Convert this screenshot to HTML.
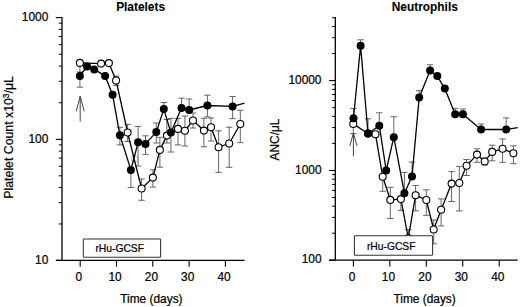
<!DOCTYPE html>
<html><head><meta charset="utf-8"><style>
html,body{margin:0;padding:0;background:#fff;}
svg{display:block;}
text{font-family:"Liberation Sans",sans-serif;fill:#000;stroke:#000;stroke-width:0.22px;}
</style></head><body>
<svg width="520" height="307" viewBox="0 0 520 307">
<rect width="520" height="307" fill="#fff"/>
<line x1="62.0" y1="17.1" x2="62.0" y2="260.4" stroke="#000" stroke-width="1.3"/>
<line x1="55.8" y1="260.4" x2="62.0" y2="260.4" stroke="#000" stroke-width="1.1"/>
<line x1="55.8" y1="139.4" x2="62.0" y2="139.4" stroke="#000" stroke-width="1.1"/>
<line x1="55.8" y1="17.6" x2="62.0" y2="17.6" stroke="#000" stroke-width="1.1"/>
<line x1="58.8" y1="223.97537052465827" x2="62.0" y2="223.97537052465827" stroke="#000" stroke-width="0.9900000000000001"/>
<line x1="58.8" y1="202.66832817892083" x2="62.0" y2="202.66832817892083" stroke="#000" stroke-width="0.9900000000000001"/>
<line x1="58.8" y1="187.55074104931654" x2="62.0" y2="187.55074104931654" stroke="#000" stroke-width="0.9900000000000001"/>
<line x1="58.8" y1="175.8246294753417" x2="62.0" y2="175.8246294753417" stroke="#000" stroke-width="0.9900000000000001"/>
<line x1="58.8" y1="166.24369870357913" x2="62.0" y2="166.24369870357913" stroke="#000" stroke-width="0.9900000000000001"/>
<line x1="58.8" y1="158.14313715827493" x2="62.0" y2="158.14313715827493" stroke="#000" stroke-width="0.9900000000000001"/>
<line x1="58.8" y1="151.12611157397484" x2="62.0" y2="151.12611157397484" stroke="#000" stroke-width="0.9900000000000001"/>
<line x1="58.8" y1="144.93665635784168" x2="62.0" y2="144.93665635784168" stroke="#000" stroke-width="0.9900000000000001"/>
<line x1="58.8" y1="102.73454652812708" x2="62.0" y2="102.73454652812708" stroke="#000" stroke-width="0.9900000000000001"/>
<line x1="58.8" y1="81.28663117514512" x2="62.0" y2="81.28663117514512" stroke="#000" stroke-width="0.9900000000000001"/>
<line x1="58.8" y1="66.06909305625418" x2="62.0" y2="66.06909305625418" stroke="#000" stroke-width="0.9900000000000001"/>
<line x1="58.8" y1="54.2654534718729" x2="62.0" y2="54.2654534718729" stroke="#000" stroke-width="0.9900000000000001"/>
<line x1="58.8" y1="44.621177703272195" x2="62.0" y2="44.621177703272195" stroke="#000" stroke-width="0.9900000000000001"/>
<line x1="58.8" y1="36.46705872626352" x2="62.0" y2="36.46705872626352" stroke="#000" stroke-width="0.9900000000000001"/>
<line x1="58.8" y1="29.403639584381267" x2="62.0" y2="29.403639584381267" stroke="#000" stroke-width="0.9900000000000001"/>
<line x1="58.8" y1="23.17326235029023" x2="62.0" y2="23.17326235029023" stroke="#000" stroke-width="0.9900000000000001"/>
<text x="48.3" y="20.700000000000003" font-size="11.9" text-anchor="end" font-weight="normal" font-family="Liberation Sans, sans-serif" >1000</text>
<text x="48.3" y="142.5" font-size="11.9" text-anchor="end" font-weight="normal" font-family="Liberation Sans, sans-serif" >100</text>
<text x="48.3" y="263.5" font-size="11.9" text-anchor="end" font-weight="normal" font-family="Liberation Sans, sans-serif" >10</text>
<line x1="56.0" y1="260.4" x2="244.6" y2="260.4" stroke="#000" stroke-width="1.3"/>
<line x1="80.2" y1="260.4" x2="80.2" y2="266.7" stroke="#000" stroke-width="1.1"/>
<line x1="116.5" y1="260.4" x2="116.5" y2="266.7" stroke="#000" stroke-width="1.1"/>
<line x1="152.8" y1="260.4" x2="152.8" y2="266.7" stroke="#000" stroke-width="1.1"/>
<line x1="189.1" y1="260.4" x2="189.1" y2="266.7" stroke="#000" stroke-width="1.1"/>
<line x1="225.39999999999998" y1="260.4" x2="225.39999999999998" y2="266.7" stroke="#000" stroke-width="1.1"/>
<text x="78.8" y="280.6" font-size="11.9" text-anchor="middle" font-weight="normal" font-family="Liberation Sans, sans-serif" >0</text>
<text x="115.1" y="280.6" font-size="11.9" text-anchor="middle" font-weight="normal" font-family="Liberation Sans, sans-serif" >10</text>
<text x="151.4" y="280.6" font-size="11.9" text-anchor="middle" font-weight="normal" font-family="Liberation Sans, sans-serif" >20</text>
<text x="187.7" y="280.6" font-size="11.9" text-anchor="middle" font-weight="normal" font-family="Liberation Sans, sans-serif" >30</text>
<text x="223.99999999999997" y="280.6" font-size="11.9" text-anchor="middle" font-weight="normal" font-family="Liberation Sans, sans-serif" >40</text>
<line x1="335.3" y1="17.1" x2="335.3" y2="260.2" stroke="#000" stroke-width="1.3"/>
<line x1="329.1" y1="260.2" x2="335.3" y2="260.2" stroke="#000" stroke-width="1.1"/>
<line x1="329.1" y1="170.5" x2="335.3" y2="170.5" stroke="#000" stroke-width="1.1"/>
<line x1="329.1" y1="80.6" x2="335.3" y2="80.6" stroke="#000" stroke-width="1.1"/>
<line x1="332.1" y1="233.1976093889409" x2="335.3" y2="233.1976093889409" stroke="#000" stroke-width="0.9900000000000001"/>
<line x1="332.1" y1="217.40222345164628" x2="335.3" y2="217.40222345164628" stroke="#000" stroke-width="0.9900000000000001"/>
<line x1="332.1" y1="206.19521877788176" x2="335.3" y2="206.19521877788176" stroke="#000" stroke-width="0.9900000000000001"/>
<line x1="332.1" y1="197.5023906110591" x2="335.3" y2="197.5023906110591" stroke="#000" stroke-width="0.9900000000000001"/>
<line x1="332.1" y1="190.39983284058718" x2="335.3" y2="190.39983284058718" stroke="#000" stroke-width="0.9900000000000001"/>
<line x1="332.1" y1="184.39470581072118" x2="335.3" y2="184.39470581072118" stroke="#000" stroke-width="0.9900000000000001"/>
<line x1="332.1" y1="179.19282816682266" x2="335.3" y2="179.19282816682266" stroke="#000" stroke-width="0.9900000000000001"/>
<line x1="332.1" y1="174.60444690329257" x2="335.3" y2="174.60444690329257" stroke="#000" stroke-width="0.9900000000000001"/>
<line x1="332.1" y1="143.43740338980808" x2="335.3" y2="143.43740338980808" stroke="#000" stroke-width="0.9900000000000001"/>
<line x1="332.1" y1="127.60679920070234" x2="335.3" y2="127.60679920070234" stroke="#000" stroke-width="0.9900000000000001"/>
<line x1="332.1" y1="116.37480677961618" x2="335.3" y2="116.37480677961618" stroke="#000" stroke-width="0.9900000000000001"/>
<line x1="332.1" y1="107.6625966101919" x2="335.3" y2="107.6625966101919" stroke="#000" stroke-width="0.9900000000000001"/>
<line x1="332.1" y1="100.54420259051044" x2="335.3" y2="100.54420259051044" stroke="#000" stroke-width="0.9900000000000001"/>
<line x1="332.1" y1="94.5256862027183" x2="335.3" y2="94.5256862027183" stroke="#000" stroke-width="0.9900000000000001"/>
<line x1="332.1" y1="89.31221016942428" x2="335.3" y2="89.31221016942428" stroke="#000" stroke-width="0.9900000000000001"/>
<line x1="332.1" y1="84.7135984014047" x2="335.3" y2="84.7135984014047" stroke="#000" stroke-width="0.9900000000000001"/>
<line x1="332.1" y1="53.537403389808084" x2="335.3" y2="53.537403389808084" stroke="#000" stroke-width="0.9900000000000001"/>
<line x1="332.1" y1="37.70679920070234" x2="335.3" y2="37.70679920070234" stroke="#000" stroke-width="0.9900000000000001"/>
<line x1="332.1" y1="26.474806779616173" x2="335.3" y2="26.474806779616173" stroke="#000" stroke-width="0.9900000000000001"/>
<line x1="332.1" y1="17.762596610191892" x2="335.3" y2="17.762596610191892" stroke="#000" stroke-width="0.9900000000000001"/>
<text x="321.5" y="83.69999999999999" font-size="11.9" text-anchor="end" font-weight="normal" font-family="Liberation Sans, sans-serif" >10000</text>
<text x="321.5" y="173.6" font-size="11.9" text-anchor="end" font-weight="normal" font-family="Liberation Sans, sans-serif" >1000</text>
<text x="321.5" y="263.3" font-size="11.9" text-anchor="end" font-weight="normal" font-family="Liberation Sans, sans-serif" >100</text>
<line x1="329.0" y1="260.2" x2="517.6" y2="260.2" stroke="#000" stroke-width="1.3"/>
<line x1="353.4" y1="260.2" x2="353.4" y2="266.5" stroke="#000" stroke-width="1.1"/>
<line x1="389.84999999999997" y1="260.2" x2="389.84999999999997" y2="266.5" stroke="#000" stroke-width="1.1"/>
<line x1="426.29999999999995" y1="260.2" x2="426.29999999999995" y2="266.5" stroke="#000" stroke-width="1.1"/>
<line x1="462.75" y1="260.2" x2="462.75" y2="266.5" stroke="#000" stroke-width="1.1"/>
<line x1="499.2" y1="260.2" x2="499.2" y2="266.5" stroke="#000" stroke-width="1.1"/>
<text x="352.0" y="280.6" font-size="11.9" text-anchor="middle" font-weight="normal" font-family="Liberation Sans, sans-serif" >0</text>
<text x="388.45" y="280.6" font-size="11.9" text-anchor="middle" font-weight="normal" font-family="Liberation Sans, sans-serif" >10</text>
<text x="424.9" y="280.6" font-size="11.9" text-anchor="middle" font-weight="normal" font-family="Liberation Sans, sans-serif" >20</text>
<text x="461.35" y="280.6" font-size="11.9" text-anchor="middle" font-weight="normal" font-family="Liberation Sans, sans-serif" >30</text>
<text x="497.8" y="280.6" font-size="11.9" text-anchor="middle" font-weight="normal" font-family="Liberation Sans, sans-serif" >40</text>
<circle cx="134.4" cy="159" r="3.3" fill="none" stroke="#bbb" stroke-width="1"/>
<line x1="79.9" y1="62.9" x2="79.9" y2="72" stroke="#555" stroke-width="0.9"/>
<line x1="76.7" y1="72" x2="83.10000000000001" y2="72" stroke="#555" stroke-width="0.9"/>
<line x1="116.1" y1="80.5" x2="116.1" y2="76.1" stroke="#555" stroke-width="0.9"/>
<line x1="112.89999999999999" y1="76.1" x2="119.3" y2="76.1" stroke="#555" stroke-width="0.9"/>
<line x1="116.1" y1="80.5" x2="116.1" y2="85.4" stroke="#555" stroke-width="0.9"/>
<line x1="112.89999999999999" y1="85.4" x2="119.3" y2="85.4" stroke="#555" stroke-width="0.9"/>
<line x1="127.6" y1="132.5" x2="127.6" y2="124.4" stroke="#555" stroke-width="0.9"/>
<line x1="124.39999999999999" y1="124.4" x2="130.79999999999998" y2="124.4" stroke="#555" stroke-width="0.9"/>
<line x1="127.6" y1="132.5" x2="127.6" y2="141.5" stroke="#555" stroke-width="0.9"/>
<line x1="124.39999999999999" y1="141.5" x2="130.79999999999998" y2="141.5" stroke="#555" stroke-width="0.9"/>
<line x1="141.6" y1="188.5" x2="141.6" y2="179" stroke="#555" stroke-width="0.9"/>
<line x1="138.4" y1="179" x2="144.79999999999998" y2="179" stroke="#555" stroke-width="0.9"/>
<line x1="141.6" y1="188.5" x2="141.6" y2="200.3" stroke="#555" stroke-width="0.9"/>
<line x1="138.4" y1="200.3" x2="144.79999999999998" y2="200.3" stroke="#555" stroke-width="0.9"/>
<line x1="152.9" y1="177.6" x2="152.9" y2="169.8" stroke="#555" stroke-width="0.9"/>
<line x1="149.70000000000002" y1="169.8" x2="156.1" y2="169.8" stroke="#555" stroke-width="0.9"/>
<line x1="152.9" y1="177.6" x2="152.9" y2="187.1" stroke="#555" stroke-width="0.9"/>
<line x1="149.70000000000002" y1="187.1" x2="156.1" y2="187.1" stroke="#555" stroke-width="0.9"/>
<line x1="159.9" y1="149.9" x2="159.9" y2="137.3" stroke="#555" stroke-width="0.9"/>
<line x1="156.70000000000002" y1="137.3" x2="163.1" y2="137.3" stroke="#555" stroke-width="0.9"/>
<line x1="159.9" y1="149.9" x2="159.9" y2="167.2" stroke="#555" stroke-width="0.9"/>
<line x1="156.70000000000002" y1="167.2" x2="163.1" y2="167.2" stroke="#555" stroke-width="0.9"/>
<line x1="166.9" y1="135.6" x2="166.9" y2="119.5" stroke="#555" stroke-width="0.9"/>
<line x1="163.70000000000002" y1="119.5" x2="170.1" y2="119.5" stroke="#555" stroke-width="0.9"/>
<line x1="166.9" y1="135.6" x2="166.9" y2="143" stroke="#555" stroke-width="0.9"/>
<line x1="163.70000000000002" y1="143" x2="170.1" y2="143" stroke="#555" stroke-width="0.9"/>
<line x1="178" y1="128.9" x2="178" y2="118.4" stroke="#555" stroke-width="0.9"/>
<line x1="174.8" y1="118.4" x2="181.2" y2="118.4" stroke="#555" stroke-width="0.9"/>
<line x1="178" y1="128.9" x2="178" y2="144.9" stroke="#555" stroke-width="0.9"/>
<line x1="174.8" y1="144.9" x2="181.2" y2="144.9" stroke="#555" stroke-width="0.9"/>
<line x1="184.9" y1="130.8" x2="184.9" y2="116" stroke="#555" stroke-width="0.9"/>
<line x1="181.70000000000002" y1="116" x2="188.1" y2="116" stroke="#555" stroke-width="0.9"/>
<line x1="184.9" y1="130.8" x2="184.9" y2="146" stroke="#555" stroke-width="0.9"/>
<line x1="181.70000000000002" y1="146" x2="188.1" y2="146" stroke="#555" stroke-width="0.9"/>
<line x1="193" y1="120.5" x2="193" y2="113" stroke="#555" stroke-width="0.9"/>
<line x1="189.8" y1="113" x2="196.2" y2="113" stroke="#555" stroke-width="0.9"/>
<line x1="193" y1="120.5" x2="193" y2="128" stroke="#555" stroke-width="0.9"/>
<line x1="189.8" y1="128" x2="196.2" y2="128" stroke="#555" stroke-width="0.9"/>
<line x1="203.9" y1="130.6" x2="203.9" y2="118.3" stroke="#555" stroke-width="0.9"/>
<line x1="200.70000000000002" y1="118.3" x2="207.1" y2="118.3" stroke="#555" stroke-width="0.9"/>
<line x1="203.9" y1="130.6" x2="203.9" y2="146.8" stroke="#555" stroke-width="0.9"/>
<line x1="200.70000000000002" y1="146.8" x2="207.1" y2="146.8" stroke="#555" stroke-width="0.9"/>
<line x1="211" y1="127.2" x2="211" y2="118" stroke="#555" stroke-width="0.9"/>
<line x1="207.8" y1="118" x2="214.2" y2="118" stroke="#555" stroke-width="0.9"/>
<line x1="211" y1="127.2" x2="211" y2="141" stroke="#555" stroke-width="0.9"/>
<line x1="207.8" y1="141" x2="214.2" y2="141" stroke="#555" stroke-width="0.9"/>
<line x1="218.6" y1="147.2" x2="218.6" y2="130.8" stroke="#555" stroke-width="0.9"/>
<line x1="215.4" y1="130.8" x2="221.79999999999998" y2="130.8" stroke="#555" stroke-width="0.9"/>
<line x1="218.6" y1="147.2" x2="218.6" y2="172.4" stroke="#555" stroke-width="0.9"/>
<line x1="215.4" y1="172.4" x2="221.79999999999998" y2="172.4" stroke="#555" stroke-width="0.9"/>
<line x1="229.2" y1="143.5" x2="229.2" y2="127.2" stroke="#555" stroke-width="0.9"/>
<line x1="226.0" y1="127.2" x2="232.39999999999998" y2="127.2" stroke="#555" stroke-width="0.9"/>
<line x1="229.2" y1="143.5" x2="229.2" y2="167.3" stroke="#555" stroke-width="0.9"/>
<line x1="226.0" y1="167.3" x2="232.39999999999998" y2="167.3" stroke="#555" stroke-width="0.9"/>
<line x1="240.3" y1="124" x2="240.3" y2="110.3" stroke="#555" stroke-width="0.9"/>
<line x1="237.10000000000002" y1="110.3" x2="243.5" y2="110.3" stroke="#555" stroke-width="0.9"/>
<line x1="240.3" y1="124" x2="240.3" y2="142.7" stroke="#555" stroke-width="0.9"/>
<line x1="237.10000000000002" y1="142.7" x2="243.5" y2="142.7" stroke="#555" stroke-width="0.9"/>
<line x1="79.9" y1="76.0" x2="79.9" y2="87.2" stroke="#555" stroke-width="0.9"/>
<line x1="76.7" y1="87.2" x2="83.10000000000001" y2="87.2" stroke="#555" stroke-width="0.9"/>
<line x1="119.9" y1="135.3" x2="119.9" y2="127.3" stroke="#555" stroke-width="0.9"/>
<line x1="116.7" y1="127.3" x2="123.10000000000001" y2="127.3" stroke="#555" stroke-width="0.9"/>
<line x1="119.9" y1="135.3" x2="119.9" y2="144.9" stroke="#555" stroke-width="0.9"/>
<line x1="116.7" y1="144.9" x2="123.10000000000001" y2="144.9" stroke="#555" stroke-width="0.9"/>
<line x1="130.9" y1="169.9" x2="130.9" y2="187.5" stroke="#555" stroke-width="0.9"/>
<line x1="127.7" y1="187.5" x2="134.1" y2="187.5" stroke="#555" stroke-width="0.9"/>
<line x1="138.1" y1="142.3" x2="138.1" y2="126.4" stroke="#555" stroke-width="0.9"/>
<line x1="134.9" y1="126.4" x2="141.29999999999998" y2="126.4" stroke="#555" stroke-width="0.9"/>
<line x1="138.1" y1="142.3" x2="138.1" y2="166" stroke="#555" stroke-width="0.9"/>
<line x1="134.9" y1="166" x2="141.29999999999998" y2="166" stroke="#555" stroke-width="0.9"/>
<line x1="145.5" y1="143.9" x2="145.5" y2="135.8" stroke="#555" stroke-width="0.9"/>
<line x1="142.3" y1="135.8" x2="148.7" y2="135.8" stroke="#555" stroke-width="0.9"/>
<line x1="145.5" y1="143.9" x2="145.5" y2="154.4" stroke="#555" stroke-width="0.9"/>
<line x1="142.3" y1="154.4" x2="148.7" y2="154.4" stroke="#555" stroke-width="0.9"/>
<line x1="156.3" y1="132.1" x2="156.3" y2="123" stroke="#555" stroke-width="0.9"/>
<line x1="153.10000000000002" y1="123" x2="159.5" y2="123" stroke="#555" stroke-width="0.9"/>
<line x1="156.3" y1="132.1" x2="156.3" y2="143" stroke="#555" stroke-width="0.9"/>
<line x1="153.10000000000002" y1="143" x2="159.5" y2="143" stroke="#555" stroke-width="0.9"/>
<line x1="163.8" y1="109.1" x2="163.8" y2="102.5" stroke="#555" stroke-width="0.9"/>
<line x1="160.60000000000002" y1="102.5" x2="167.0" y2="102.5" stroke="#555" stroke-width="0.9"/>
<line x1="170.9" y1="132.6" x2="170.9" y2="118.4" stroke="#555" stroke-width="0.9"/>
<line x1="167.70000000000002" y1="118.4" x2="174.1" y2="118.4" stroke="#555" stroke-width="0.9"/>
<line x1="170.9" y1="132.6" x2="170.9" y2="152" stroke="#555" stroke-width="0.9"/>
<line x1="167.70000000000002" y1="152" x2="174.1" y2="152" stroke="#555" stroke-width="0.9"/>
<line x1="181.5" y1="108" x2="181.5" y2="98.2" stroke="#555" stroke-width="0.9"/>
<line x1="178.3" y1="98.2" x2="184.7" y2="98.2" stroke="#555" stroke-width="0.9"/>
<line x1="189.2" y1="110" x2="189.2" y2="99" stroke="#555" stroke-width="0.9"/>
<line x1="186.0" y1="99" x2="192.39999999999998" y2="99" stroke="#555" stroke-width="0.9"/>
<line x1="207.4" y1="105.5" x2="207.4" y2="95.2" stroke="#555" stroke-width="0.9"/>
<line x1="204.20000000000002" y1="95.2" x2="210.6" y2="95.2" stroke="#555" stroke-width="0.9"/>
<line x1="207.4" y1="105.5" x2="207.4" y2="116.9" stroke="#555" stroke-width="0.9"/>
<line x1="204.20000000000002" y1="116.9" x2="210.6" y2="116.9" stroke="#555" stroke-width="0.9"/>
<line x1="232.6" y1="106.4" x2="232.6" y2="96.5" stroke="#555" stroke-width="0.9"/>
<line x1="229.4" y1="96.5" x2="235.79999999999998" y2="96.5" stroke="#555" stroke-width="0.9"/>
<line x1="232.6" y1="106.4" x2="232.6" y2="118.7" stroke="#555" stroke-width="0.9"/>
<line x1="229.4" y1="118.7" x2="235.79999999999998" y2="118.7" stroke="#555" stroke-width="0.9"/>
<line x1="353.3" y1="123.9" x2="353.3" y2="133.6" stroke="#555" stroke-width="0.9"/>
<line x1="350.1" y1="133.6" x2="356.5" y2="133.6" stroke="#555" stroke-width="0.9"/>
<line x1="382.7" y1="176.7" x2="382.7" y2="191.3" stroke="#555" stroke-width="0.9"/>
<line x1="379.5" y1="191.3" x2="385.9" y2="191.3" stroke="#555" stroke-width="0.9"/>
<line x1="390.3" y1="199.9" x2="390.3" y2="187.3" stroke="#555" stroke-width="0.9"/>
<line x1="387.1" y1="187.3" x2="393.5" y2="187.3" stroke="#555" stroke-width="0.9"/>
<line x1="390.3" y1="199.9" x2="390.3" y2="218.5" stroke="#555" stroke-width="0.9"/>
<line x1="387.1" y1="218.5" x2="393.5" y2="218.5" stroke="#555" stroke-width="0.9"/>
<line x1="400.9" y1="199.1" x2="400.9" y2="210.4" stroke="#555" stroke-width="0.9"/>
<line x1="397.7" y1="210.4" x2="404.09999999999997" y2="210.4" stroke="#555" stroke-width="0.9"/>
<line x1="408.3" y1="238" x2="408.3" y2="229.5" stroke="#555" stroke-width="0.9"/>
<line x1="405.1" y1="229.5" x2="411.5" y2="229.5" stroke="#555" stroke-width="0.9"/>
<line x1="415.6" y1="195.2" x2="415.6" y2="185.5" stroke="#555" stroke-width="0.9"/>
<line x1="412.40000000000003" y1="185.5" x2="418.8" y2="185.5" stroke="#555" stroke-width="0.9"/>
<line x1="415.6" y1="195.2" x2="415.6" y2="210.8" stroke="#555" stroke-width="0.9"/>
<line x1="412.40000000000003" y1="210.8" x2="418.8" y2="210.8" stroke="#555" stroke-width="0.9"/>
<line x1="426.3" y1="200" x2="426.3" y2="189.8" stroke="#555" stroke-width="0.9"/>
<line x1="423.1" y1="189.8" x2="429.5" y2="189.8" stroke="#555" stroke-width="0.9"/>
<line x1="426.3" y1="200" x2="426.3" y2="215.3" stroke="#555" stroke-width="0.9"/>
<line x1="423.1" y1="215.3" x2="429.5" y2="215.3" stroke="#555" stroke-width="0.9"/>
<line x1="433.7" y1="229.5" x2="433.7" y2="220" stroke="#555" stroke-width="0.9"/>
<line x1="430.5" y1="220" x2="436.9" y2="220" stroke="#555" stroke-width="0.9"/>
<line x1="433.7" y1="229.5" x2="433.7" y2="243.8" stroke="#555" stroke-width="0.9"/>
<line x1="430.5" y1="243.8" x2="436.9" y2="243.8" stroke="#555" stroke-width="0.9"/>
<line x1="441.1" y1="209.7" x2="441.1" y2="198.9" stroke="#555" stroke-width="0.9"/>
<line x1="437.90000000000003" y1="198.9" x2="444.3" y2="198.9" stroke="#555" stroke-width="0.9"/>
<line x1="441.1" y1="209.7" x2="441.1" y2="225.9" stroke="#555" stroke-width="0.9"/>
<line x1="437.90000000000003" y1="225.9" x2="444.3" y2="225.9" stroke="#555" stroke-width="0.9"/>
<line x1="451.6" y1="183.6" x2="451.6" y2="171.6" stroke="#555" stroke-width="0.9"/>
<line x1="448.40000000000003" y1="171.6" x2="454.8" y2="171.6" stroke="#555" stroke-width="0.9"/>
<line x1="451.6" y1="183.6" x2="451.6" y2="201.5" stroke="#555" stroke-width="0.9"/>
<line x1="448.40000000000003" y1="201.5" x2="454.8" y2="201.5" stroke="#555" stroke-width="0.9"/>
<line x1="459.3" y1="183" x2="459.3" y2="166.4" stroke="#555" stroke-width="0.9"/>
<line x1="456.1" y1="166.4" x2="462.5" y2="166.4" stroke="#555" stroke-width="0.9"/>
<line x1="459.3" y1="183" x2="459.3" y2="210.9" stroke="#555" stroke-width="0.9"/>
<line x1="456.1" y1="210.9" x2="462.5" y2="210.9" stroke="#555" stroke-width="0.9"/>
<line x1="466.6" y1="165.8" x2="466.6" y2="159.5" stroke="#555" stroke-width="0.9"/>
<line x1="463.40000000000003" y1="159.5" x2="469.8" y2="159.5" stroke="#555" stroke-width="0.9"/>
<line x1="466.6" y1="165.8" x2="466.6" y2="175.5" stroke="#555" stroke-width="0.9"/>
<line x1="463.40000000000003" y1="175.5" x2="469.8" y2="175.5" stroke="#555" stroke-width="0.9"/>
<line x1="477" y1="154.6" x2="477" y2="148.8" stroke="#555" stroke-width="0.9"/>
<line x1="473.8" y1="148.8" x2="480.2" y2="148.8" stroke="#555" stroke-width="0.9"/>
<line x1="477" y1="154.6" x2="477" y2="162.3" stroke="#555" stroke-width="0.9"/>
<line x1="473.8" y1="162.3" x2="480.2" y2="162.3" stroke="#555" stroke-width="0.9"/>
<line x1="484.7" y1="161.4" x2="484.7" y2="165" stroke="#555" stroke-width="0.9"/>
<line x1="481.5" y1="165" x2="487.9" y2="165" stroke="#555" stroke-width="0.9"/>
<line x1="492.2" y1="151.9" x2="492.2" y2="145.2" stroke="#555" stroke-width="0.9"/>
<line x1="489.0" y1="145.2" x2="495.4" y2="145.2" stroke="#555" stroke-width="0.9"/>
<line x1="492.2" y1="151.9" x2="492.2" y2="160.8" stroke="#555" stroke-width="0.9"/>
<line x1="489.0" y1="160.8" x2="495.4" y2="160.8" stroke="#555" stroke-width="0.9"/>
<line x1="502.6" y1="148.8" x2="502.6" y2="139" stroke="#555" stroke-width="0.9"/>
<line x1="499.40000000000003" y1="139" x2="505.8" y2="139" stroke="#555" stroke-width="0.9"/>
<line x1="502.6" y1="148.8" x2="502.6" y2="162.3" stroke="#555" stroke-width="0.9"/>
<line x1="499.40000000000003" y1="162.3" x2="505.8" y2="162.3" stroke="#555" stroke-width="0.9"/>
<line x1="513.4" y1="153.3" x2="513.4" y2="145.8" stroke="#555" stroke-width="0.9"/>
<line x1="510.2" y1="145.8" x2="516.6" y2="145.8" stroke="#555" stroke-width="0.9"/>
<line x1="513.4" y1="153.3" x2="513.4" y2="163.7" stroke="#555" stroke-width="0.9"/>
<line x1="510.2" y1="163.7" x2="516.6" y2="163.7" stroke="#555" stroke-width="0.9"/>
<line x1="353.5" y1="118.3" x2="353.5" y2="108.5" stroke="#555" stroke-width="0.9"/>
<line x1="350.3" y1="108.5" x2="356.7" y2="108.5" stroke="#555" stroke-width="0.9"/>
<line x1="360.6" y1="45.8" x2="360.6" y2="39.8" stroke="#555" stroke-width="0.9"/>
<line x1="357.40000000000003" y1="39.8" x2="363.8" y2="39.8" stroke="#555" stroke-width="0.9"/>
<line x1="368" y1="133.5" x2="368" y2="118.8" stroke="#555" stroke-width="0.9"/>
<line x1="364.8" y1="118.8" x2="371.2" y2="118.8" stroke="#555" stroke-width="0.9"/>
<line x1="379.3" y1="125.7" x2="379.3" y2="112.8" stroke="#555" stroke-width="0.9"/>
<line x1="376.1" y1="112.8" x2="382.5" y2="112.8" stroke="#555" stroke-width="0.9"/>
<line x1="393.8" y1="137.2" x2="393.8" y2="116.7" stroke="#555" stroke-width="0.9"/>
<line x1="390.6" y1="116.7" x2="397.0" y2="116.7" stroke="#555" stroke-width="0.9"/>
<line x1="404.4" y1="193.2" x2="404.4" y2="172.4" stroke="#555" stroke-width="0.9"/>
<line x1="401.2" y1="172.4" x2="407.59999999999997" y2="172.4" stroke="#555" stroke-width="0.9"/>
<line x1="412" y1="176.4" x2="412" y2="162.1" stroke="#555" stroke-width="0.9"/>
<line x1="408.8" y1="162.1" x2="415.2" y2="162.1" stroke="#555" stroke-width="0.9"/>
<line x1="419.2" y1="97.6" x2="419.2" y2="90.7" stroke="#555" stroke-width="0.9"/>
<line x1="416.0" y1="90.7" x2="422.4" y2="90.7" stroke="#555" stroke-width="0.9"/>
<line x1="430.1" y1="70.6" x2="430.1" y2="64.8" stroke="#555" stroke-width="0.9"/>
<line x1="426.90000000000003" y1="64.8" x2="433.3" y2="64.8" stroke="#555" stroke-width="0.9"/>
<line x1="455.2" y1="114.3" x2="455.2" y2="108.4" stroke="#555" stroke-width="0.9"/>
<line x1="452.0" y1="108.4" x2="458.4" y2="108.4" stroke="#555" stroke-width="0.9"/>
<line x1="462.9" y1="114.3" x2="462.9" y2="109" stroke="#555" stroke-width="0.9"/>
<line x1="459.7" y1="109" x2="466.09999999999997" y2="109" stroke="#555" stroke-width="0.9"/>
<line x1="481.1" y1="129.5" x2="481.1" y2="124" stroke="#555" stroke-width="0.9"/>
<line x1="477.90000000000003" y1="124" x2="484.3" y2="124" stroke="#555" stroke-width="0.9"/>
<line x1="506.2" y1="129.5" x2="506.2" y2="117.9" stroke="#555" stroke-width="0.9"/>
<line x1="503.0" y1="117.9" x2="509.4" y2="117.9" stroke="#555" stroke-width="0.9"/>
<path d="M79.9,62.9 L101.1,63.6 L108.9,63.1 L116.1,80.5 L127.6,132.5 L134.4,160.0 L141.6,188.5 L152.9,177.6 L159.9,149.9 L166.9,135.6 L178,128.9 L184.9,130.8 L193,120.5 L203.9,130.6 L211,127.2 L218.6,147.2 L229.2,143.5 L240.3,124" fill="none" stroke="#000" stroke-width="1.3" stroke-linejoin="round"/>
<path d="M79.9,76.0 L87.0,66.5 L94.2,69.4 L105.1,75.9 L112.6,94.8 L119.9,135.3 L130.9,169.9 L138.1,142.3 L145.5,143.9 L156.3,132.1 L163.8,109.1 L170.9,132.6 L181.5,108.0 L189.2,110.0 L207.4,105.5 L232.6,106.4 L244.6,103.2" fill="none" stroke="#000" stroke-width="1.3" stroke-linejoin="round"/>
<path d="M353.3,123.9 L368,133.5 L375.5,134.3 L382.7,176.7 L390.3,199.9 L400.9,199.1 L408.3,238 L415.6,195.2 L426.3,200 L433.7,229.5 L441.1,209.7 L451.6,183.6 L459.3,183 L466.6,165.8 L477,154.6 L484.7,161.4 L492.2,151.9 L502.6,148.8 L513.4,153.3" fill="none" stroke="#000" stroke-width="1.3" stroke-linejoin="round"/>
<path d="M353.5,118.3 L360.6,45.8 L368,133.5 L379.3,125.7 L386.2,170.5 L393.8,137.2 L404.4,193.2 L412,176.4 L419.2,97.6 L430.1,70.6 L437.3,76.1 L444.8,88.6 L455.2,114.3 L462.9,114.3 L481.1,129.5 L506.2,129.5 L517.8,127.6" fill="none" stroke="#000" stroke-width="1.3" stroke-linejoin="round"/>
<circle cx="79.9" cy="62.9" r="3.5" fill="#fff" stroke="#000" stroke-width="1.1"/>
<circle cx="101.1" cy="63.6" r="3.5" fill="#fff" stroke="#000" stroke-width="1.1"/>
<circle cx="108.9" cy="63.1" r="3.5" fill="#fff" stroke="#000" stroke-width="1.1"/>
<circle cx="116.1" cy="80.5" r="3.5" fill="#fff" stroke="#000" stroke-width="1.1"/>
<circle cx="127.6" cy="132.5" r="3.5" fill="#fff" stroke="#000" stroke-width="1.1"/>
<circle cx="141.6" cy="188.5" r="3.5" fill="#fff" stroke="#000" stroke-width="1.1"/>
<circle cx="152.9" cy="177.6" r="3.5" fill="#fff" stroke="#000" stroke-width="1.1"/>
<circle cx="159.9" cy="149.9" r="3.5" fill="#fff" stroke="#000" stroke-width="1.1"/>
<circle cx="166.9" cy="135.6" r="3.5" fill="#fff" stroke="#000" stroke-width="1.1"/>
<circle cx="178" cy="128.9" r="3.5" fill="#fff" stroke="#000" stroke-width="1.1"/>
<circle cx="184.9" cy="130.8" r="3.5" fill="#fff" stroke="#000" stroke-width="1.1"/>
<circle cx="193" cy="120.5" r="3.5" fill="#fff" stroke="#000" stroke-width="1.1"/>
<circle cx="203.9" cy="130.6" r="3.5" fill="#fff" stroke="#000" stroke-width="1.1"/>
<circle cx="211" cy="127.2" r="3.5" fill="#fff" stroke="#000" stroke-width="1.1"/>
<circle cx="218.6" cy="147.2" r="3.5" fill="#fff" stroke="#000" stroke-width="1.1"/>
<circle cx="229.2" cy="143.5" r="3.5" fill="#fff" stroke="#000" stroke-width="1.1"/>
<circle cx="240.3" cy="124" r="3.5" fill="#fff" stroke="#000" stroke-width="1.1"/>
<circle cx="79.9" cy="76.0" r="4.0" fill="#000"/>
<circle cx="87.0" cy="66.5" r="4.0" fill="#000"/>
<circle cx="94.2" cy="69.4" r="4.0" fill="#000"/>
<circle cx="105.1" cy="75.9" r="4.0" fill="#000"/>
<circle cx="112.6" cy="94.8" r="4.0" fill="#000"/>
<circle cx="119.9" cy="135.3" r="4.0" fill="#000"/>
<circle cx="130.9" cy="169.9" r="4.0" fill="#000"/>
<circle cx="138.1" cy="142.3" r="4.0" fill="#000"/>
<circle cx="145.5" cy="143.9" r="4.0" fill="#000"/>
<circle cx="156.3" cy="132.1" r="4.0" fill="#000"/>
<circle cx="163.8" cy="109.1" r="4.0" fill="#000"/>
<circle cx="170.9" cy="132.6" r="4.0" fill="#000"/>
<circle cx="181.5" cy="108.0" r="4.0" fill="#000"/>
<circle cx="189.2" cy="110.0" r="4.0" fill="#000"/>
<circle cx="207.4" cy="105.5" r="4.0" fill="#000"/>
<circle cx="232.6" cy="106.4" r="4.0" fill="#000"/>
<circle cx="353.3" cy="123.9" r="3.5" fill="#fff" stroke="#000" stroke-width="1.1"/>
<circle cx="368" cy="133.5" r="3.5" fill="#fff" stroke="#000" stroke-width="1.1"/>
<circle cx="375.5" cy="134.3" r="3.5" fill="#fff" stroke="#000" stroke-width="1.1"/>
<circle cx="382.7" cy="176.7" r="3.5" fill="#fff" stroke="#000" stroke-width="1.1"/>
<circle cx="390.3" cy="199.9" r="3.5" fill="#fff" stroke="#000" stroke-width="1.1"/>
<circle cx="400.9" cy="199.1" r="3.5" fill="#fff" stroke="#000" stroke-width="1.1"/>
<circle cx="408.3" cy="238" r="3.5" fill="#fff" stroke="#000" stroke-width="1.1"/>
<circle cx="415.6" cy="195.2" r="3.5" fill="#fff" stroke="#000" stroke-width="1.1"/>
<circle cx="426.3" cy="200" r="3.5" fill="#fff" stroke="#000" stroke-width="1.1"/>
<circle cx="433.7" cy="229.5" r="3.5" fill="#fff" stroke="#000" stroke-width="1.1"/>
<circle cx="441.1" cy="209.7" r="3.5" fill="#fff" stroke="#000" stroke-width="1.1"/>
<circle cx="451.6" cy="183.6" r="3.5" fill="#fff" stroke="#000" stroke-width="1.1"/>
<circle cx="459.3" cy="183" r="3.5" fill="#fff" stroke="#000" stroke-width="1.1"/>
<circle cx="466.6" cy="165.8" r="3.5" fill="#fff" stroke="#000" stroke-width="1.1"/>
<circle cx="477" cy="154.6" r="3.5" fill="#fff" stroke="#000" stroke-width="1.1"/>
<circle cx="484.7" cy="161.4" r="3.5" fill="#fff" stroke="#000" stroke-width="1.1"/>
<circle cx="492.2" cy="151.9" r="3.5" fill="#fff" stroke="#000" stroke-width="1.1"/>
<circle cx="502.6" cy="148.8" r="3.5" fill="#fff" stroke="#000" stroke-width="1.1"/>
<circle cx="513.4" cy="153.3" r="3.5" fill="#fff" stroke="#000" stroke-width="1.1"/>
<circle cx="353.5" cy="118.3" r="4.0" fill="#000"/>
<circle cx="360.6" cy="45.8" r="4.0" fill="#000"/>
<circle cx="368" cy="133.5" r="4.0" fill="#000"/>
<circle cx="379.3" cy="125.7" r="4.0" fill="#000"/>
<circle cx="386.2" cy="170.5" r="4.0" fill="#000"/>
<circle cx="393.8" cy="137.2" r="4.0" fill="#000"/>
<circle cx="404.4" cy="193.2" r="4.0" fill="#000"/>
<circle cx="412" cy="176.4" r="4.0" fill="#000"/>
<circle cx="419.2" cy="97.6" r="4.0" fill="#000"/>
<circle cx="430.1" cy="70.6" r="4.0" fill="#000"/>
<circle cx="437.3" cy="76.1" r="4.0" fill="#000"/>
<circle cx="444.8" cy="88.6" r="4.0" fill="#000"/>
<circle cx="455.2" cy="114.3" r="4.0" fill="#000"/>
<circle cx="462.9" cy="114.3" r="4.0" fill="#000"/>
<circle cx="481.1" cy="129.5" r="4.0" fill="#000"/>
<circle cx="506.2" cy="129.5" r="4.0" fill="#000"/>
<path d="M80.2,121.6 L80.2,96.3 M76.2,111.4 L80.2,96.3 L84.2,111.4" fill="none" stroke="#444" stroke-width="1"/>
<path d="M353.4,156.3 L353.4,133.1 M349.79999999999995,145.9 L353.4,133.1 L357.0,145.9" fill="none" stroke="#444" stroke-width="1"/>
<rect x="83.3" y="238.9" width="77.3" height="18.3" rx="0.8" fill="#fff" stroke="#333" stroke-width="1.05"/>
<text x="119.7" y="252.2" font-size="10.3" text-anchor="middle" font-weight="normal" font-family="Liberation Sans, sans-serif" >rHu-GCSF</text>
<rect x="354.4" y="235.7" width="78.2" height="19.6" rx="0.8" fill="#fff" stroke="#333" stroke-width="1.05"/>
<text x="391.2" y="249.9" font-size="10.3" text-anchor="middle" font-weight="normal" font-family="Liberation Sans, sans-serif" >rHu-GCSF</text>
<text x="140.6" y="10.6" font-size="11.9" text-anchor="middle" font-weight="bold" font-family="Liberation Sans, sans-serif" style="stroke-width:0.08px">Platelets</text>
<text x="424.8" y="10.6" font-size="11.9" text-anchor="middle" font-weight="bold" font-family="Liberation Sans, sans-serif" style="stroke-width:0.08px">Neutrophils</text>
<text x="151.4" y="303.2" font-size="11.9" text-anchor="middle" font-weight="normal" font-family="Liberation Sans, sans-serif" >Time (days)</text>
<text x="424.6" y="303.2" font-size="11.9" text-anchor="middle" font-weight="normal" font-family="Liberation Sans, sans-serif" >Time (days)</text>
<text x="0" y="0" font-size="12.3" text-anchor="middle" font-weight="normal" font-family="Liberation Sans, sans-serif" transform="translate(13.4,137.4) rotate(-90)">Platelet Count x10<tspan font-size="8.4" dy="-4.3">3</tspan><tspan dy="4.3">/μL</tspan></text>
<text x="0" y="0" font-size="11.9" text-anchor="middle" font-weight="normal" font-family="Liberation Sans, sans-serif" transform="translate(278.6,139.5) rotate(-90)">ANC/μL</text>
</svg>
</body></html>
